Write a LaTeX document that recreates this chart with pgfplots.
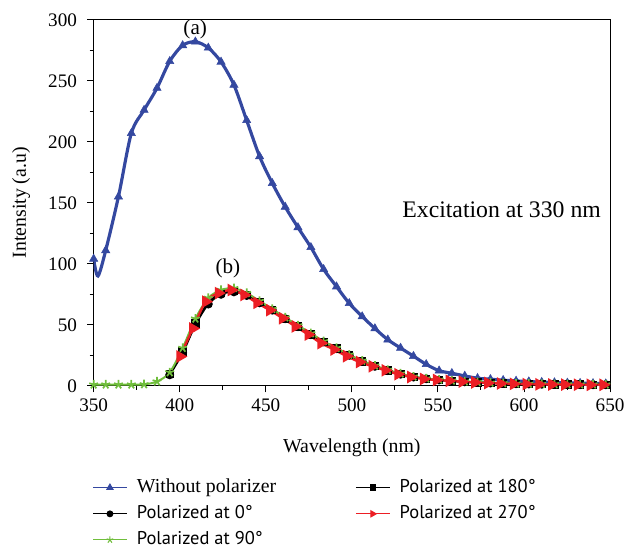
\documentclass[border=0pt]{standalone}
\usepackage{fontspec}
\setmainfont{Liberation Serif}
\newfontfamily\legsans{PT Sans}
\usepackage{pgfplots}
\pgfplotsset{compat=1.18}
\usetikzlibrary{plotmarks}

\definecolor{cblue}{RGB}{52,72,160}
\definecolor{cgreen}{RGB}{112,190,60}
\definecolor{cred}{RGB}{236,30,36}

% without polarizer
\pgfplotstableread{
x y
350 104
352.5 90
357 111
364.4 155
371.9 207
379.3 226
386.8 244
394.2 266
401.7 279
409.1 282
416.6 277
424 265.5
431.5 246.6
438.9 217.6
446.4 188
453.8 166
461.3 146.6
468.7 129.8
476.2 113.5
483.6 95.5
491.1 81.3
498.5 67.6
506 56.8
513.4 47
520.9 37.8
528.3 31
535.8 24.3
543.2 17.6
550.7 12.4
558.1 10.3
565.6 8.1
573 6.2
580.5 5.4
587.9 4.6
595.4 4
602.8 3.5
610.3 3
617.7 2.7
625.2 2.4
632.6 2.2
640.1 2
647.5 1.8
}\nopol

% polarized at 90 degrees
\pgfplotstableread{
x y
350 1
357 1
364.4 1
371.9 1
379.3 1.2
386.8 3.5
394.2 11
401.7 31
409.1 55
416.6 72
424 78.5
431.5 80
438.9 76
446.4 69.5
453.8 63
461.3 56
468.7 49.5
476.2 43
483.6 36.5
491.1 31
498.5 25.5
506 20.5
513.4 16.5
520.9 13
528.3 10
535.8 7.5
543.2 6
550.7 5
558.1 4.2
565.6 3.5
573 3
580.5 2.5
587.9 2.1
595.4 1.8
602.8 1.6
610.3 1.4
617.7 1.3
625.2 1.2
632.6 1.1
640.1 1
647.5 1
}\polg

% polarized at 0 and 180 degrees
\pgfplotstableread{
x k0 k180
394.2 9 9.5
401.7 27 28
409.1 50 51
416.6 67 68
424 75 76
431.5 77 77.5
438.9 74 74.5
446.4 68 68.5
453.8 62 62
461.3 55 55
468.7 48.5 48.5
476.2 42 42
483.6 36 36
491.1 30.5 30.5
498.5 25 25
506 20 20
513.4 16 16
520.9 12.5 12.5
528.3 9.5 9.5
535.8 7.2 7.2
543.2 5.8 5.8
550.7 4.8 4.8
558.1 4 4
565.6 3.3 3.3
573 2.8 2.8
580.5 2.3 2.3
587.9 2 2
595.4 1.7 1.7
602.8 1.5 1.5
610.3 1.3 1.3
617.7 1.2 1.2
625.2 1.1 1.1
632.6 1 1
640.1 0.9 0.9
647.5 0.9 0.9
}\polk

% polarized at 270 degrees
\pgfplotstableread{
x y
400.2 24
407.6 47
415.1 69
422.5 76
430 78.5
437.4 74.5
444.9 68
452.3 62
459.8 55.4
467.2 48.7
474.7 42
482.1 35
489.6 29.7
497 24.3
504.5 19.5
511.9 16
519.4 12.7
526.8 9.5
534.3 7.2
541.7 5.6
549.2 4.8
556.6 4.1
564.1 3.4
571.5 2.8
579 2.3
586.4 1.9
593.9 1.6
601.3 1.4
608.8 1.2
616.2 1.1
623.7 1
631.1 0.9
638.6 0.8
646 0.8
}\polr

\begin{document}
\fontsize{15}{18}\selectfont
\begin{tikzpicture}
\begin{axis}[
  name=ax,
  scale only axis, width=391.5pt, height=277.5pt,
  xmin=350, xmax=650, ymin=0, ymax=300,
  xtick={350,400,...,650}, ytick={0,50,...,300},
  minor x tick num=1, minor y tick num=1,
  tick align=outside, tick pos=left,
  major tick length=5pt, minor tick length=3pt,
  axis line style={line width=0.7pt},
  every tick/.style={black, line width=0.7pt},
  tick label style={font=\fontsize{14.5}{17}\selectfont},
  yticklabel style={xshift=-2.5pt},
  xlabel={Wavelength (nm)}, ylabel={Intensity (a.u)},
  xlabel style={yshift=-10pt}, ylabel style={yshift=3.5pt},
  /pgf/number format/assume math mode=true,
  legend columns=2,
  legend style={draw=none, fill=none, at={(0,-0.24)}, anchor=north west,
    xshift=-4pt, row sep=3.5pt, /tikz/column 2/.style={column sep=58pt}},
  legend cell align=left,
  legend image code/.code={\draw[mark repeat=2, mark phase=2, line width=0.8pt]
    plot coordinates {(0pt,0pt) (12.75pt,0pt) (25.5pt,0pt)}; \path (31pt,0pt);},
]
% lines and marks
\addplot[cblue, line width=2.4pt, smooth, no markers, forget plot] table[x=x, y=y] {\nopol};
\addplot[cblue, only marks, mark=triangle*, mark size=3.6pt, forget plot,
  skip coords between index={1}{2}] table[x=x, y=y] {\nopol};
\addplot[black, line width=1.5pt, smooth, mark=*, mark size=2.6pt, forget plot] table[x=x, y=k0] {\polk};
\addplot[black, line width=1.5pt, smooth, mark=square*, mark size=2.4pt, forget plot] table[x=x, y=k180] {\polk};
\addplot[cgreen, line width=1.5pt, smooth, mark=star, mark size=3.5pt, mark options={line width=1.3pt}, forget plot] table[x=x, y=y] {\polg};
\addplot[cred, line width=1.8pt, smooth, mark=triangle*, mark size=3.8pt, mark options={rotate=-90}, forget plot] table[x=x, y=y] {\polr};

% legend, row by row
\addlegendimage{cblue, mark=triangle*, mark size=2.6pt}
\addlegendentry{Without polarizer}
\addlegendimage{black, mark=square*, mark size=2pt}
\addlegendentry{\legsans\fontsize{14}{17}\selectfont Polarized at 180°}
\addlegendimage{black, mark=*, mark size=2.2pt}
\addlegendentry{\legsans\fontsize{14}{17}\selectfont Polarized at 0°}
\addlegendimage{cred, mark=triangle*, mark size=2.6pt, mark options={rotate=-90}}
\addlegendentry{\legsans\fontsize{14}{17}\selectfont Polarized at 270°}
\addlegendimage{cgreen, mark=star, mark size=2.6pt}
\addlegendentry{\legsans\fontsize{14}{17}\selectfont Polarized at 90°}

\node[font=\fontsize{16}{19}\selectfont] at (axis cs:409,292) {(a)};
\node[font=\fontsize{16}{19}\selectfont] at (axis cs:428,96) {(b)};
\node[font=\fontsize{18}{21}\selectfont] at (axis cs:587,144) {Excitation at 330 nm};
\end{axis}
% page margins as in the reference
\path ([xshift=-71pt,yshift=15pt]ax.north west);
\path ([xshift=10.5pt,yshift=-118pt]ax.south east);
\end{tikzpicture}
\end{document}
